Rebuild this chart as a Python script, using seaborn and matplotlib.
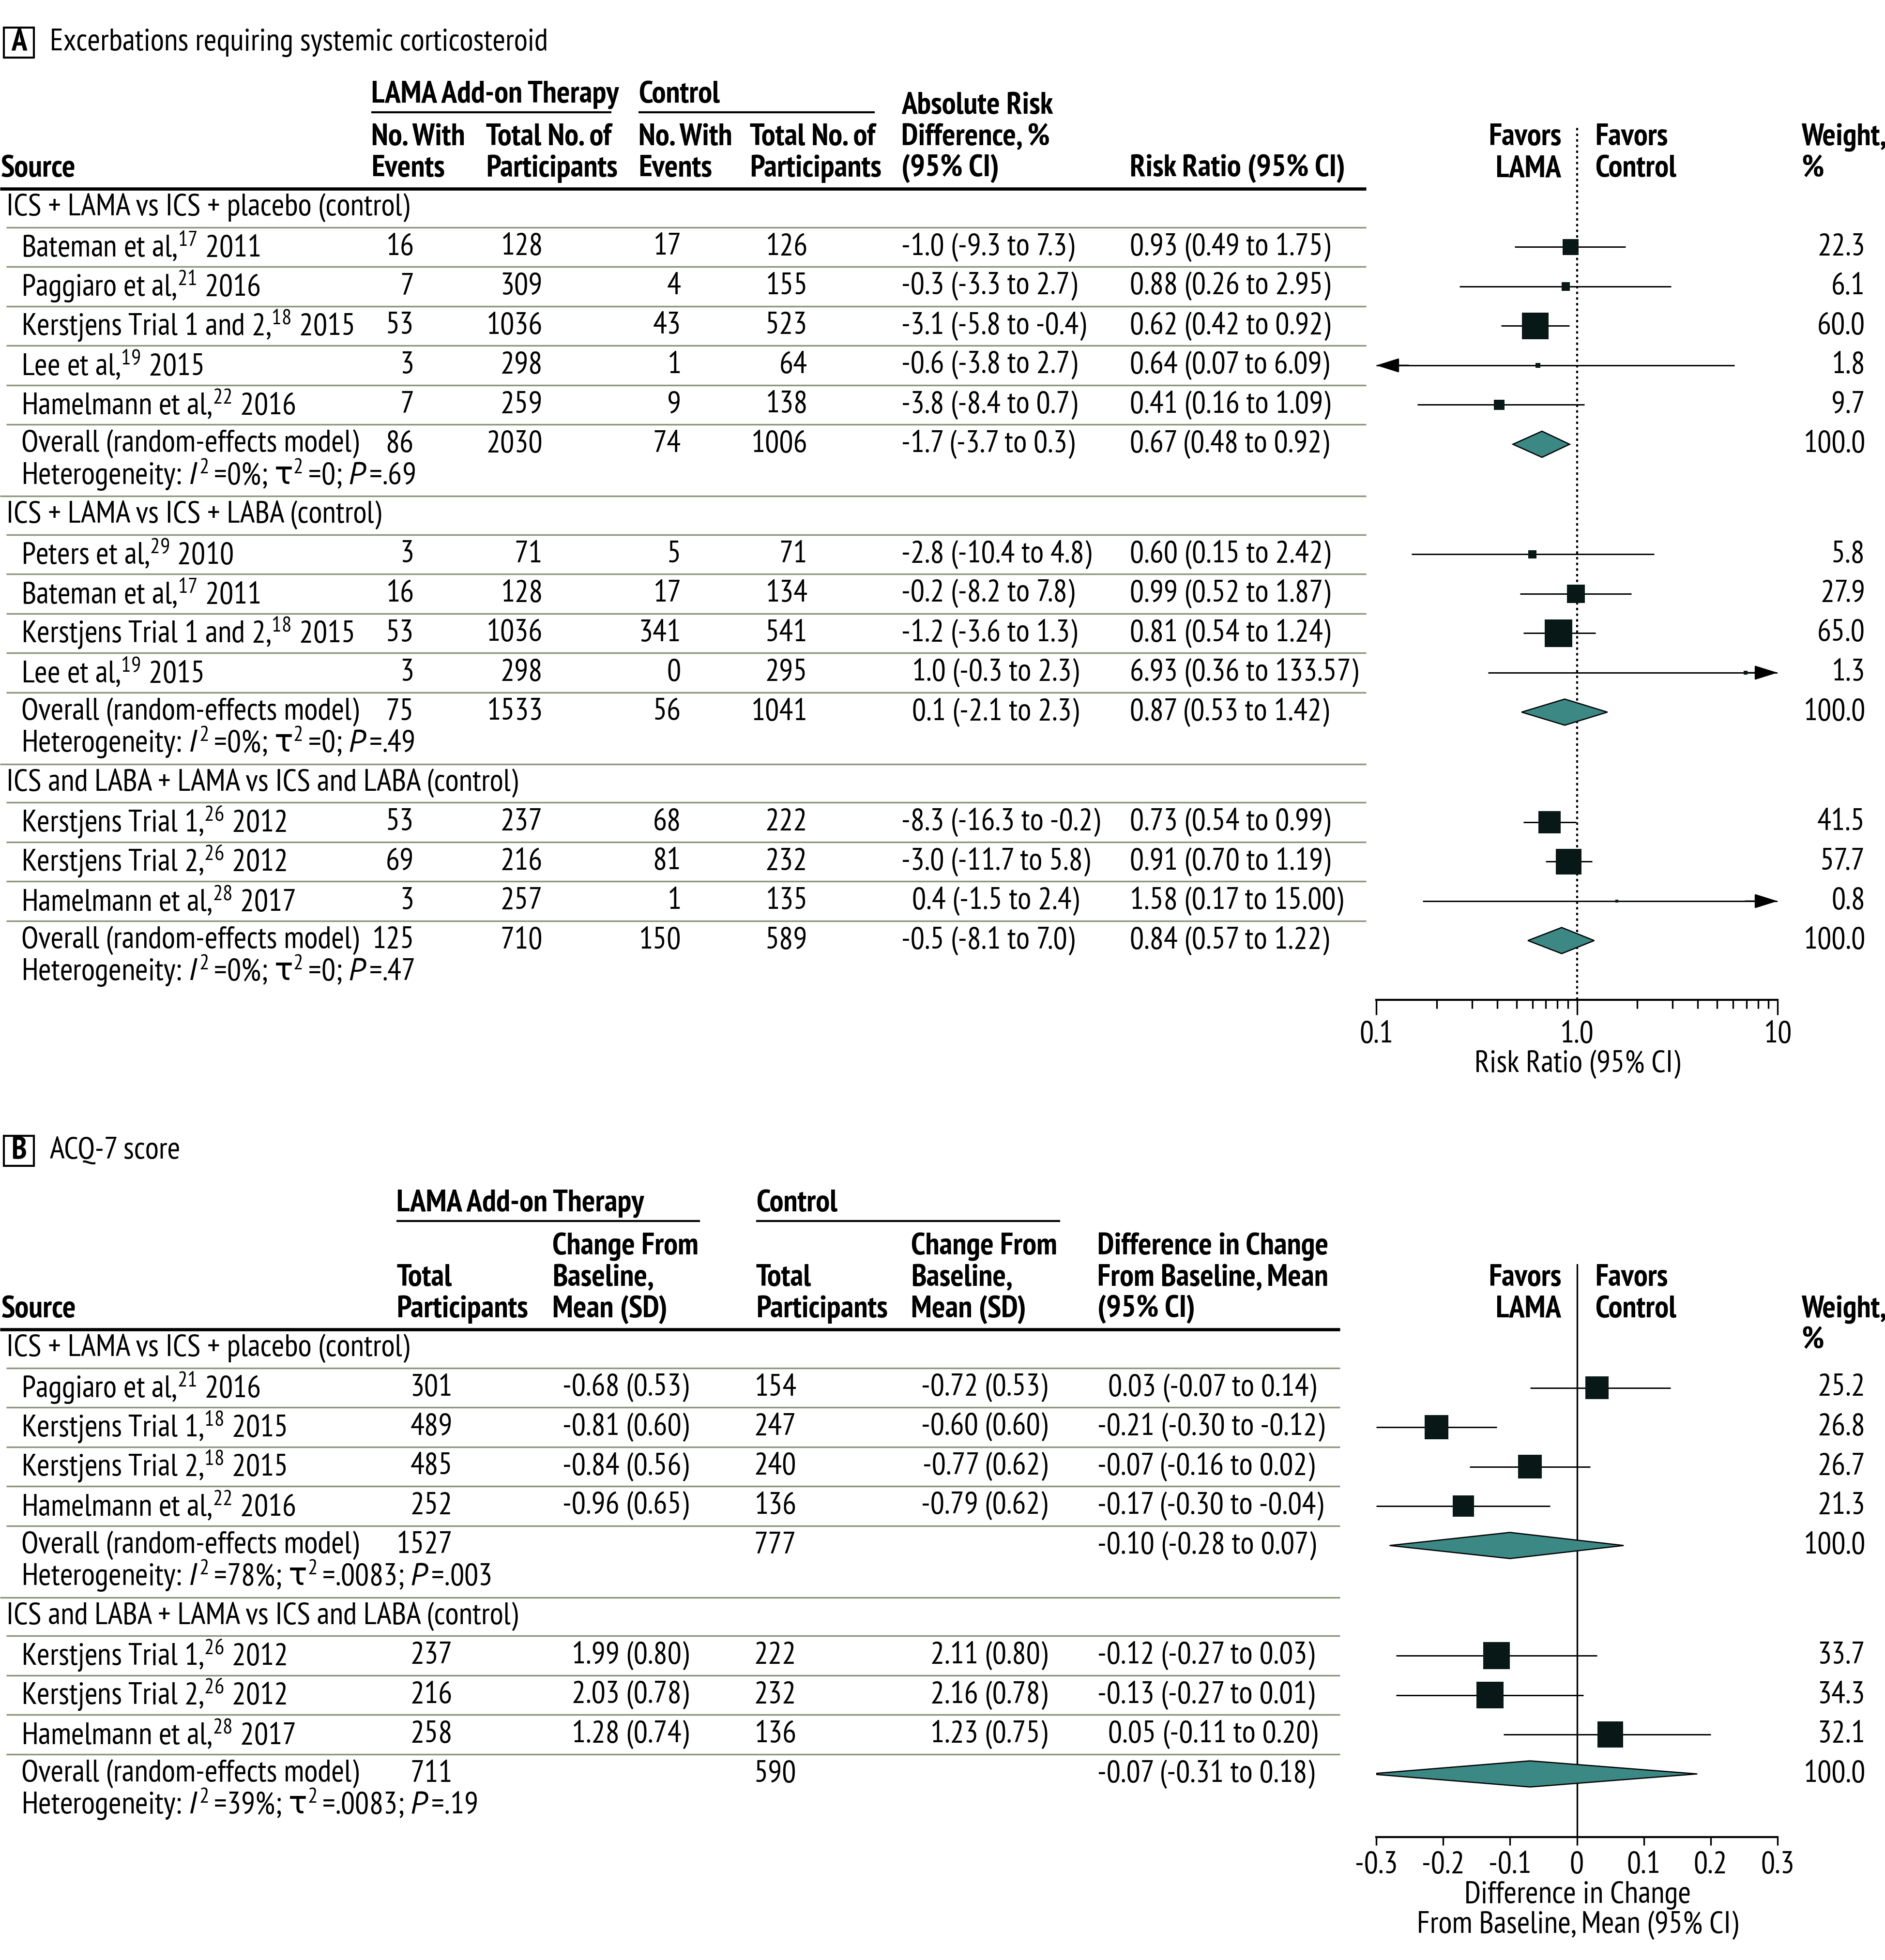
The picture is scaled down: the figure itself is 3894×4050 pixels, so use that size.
import numpy as np
import pandas as pd
import matplotlib
matplotlib.use("Agg")
import matplotlib.pyplot as plt
from matplotlib import font_manager as fm
from matplotlib.patches import Polygon, Rectangle
from matplotlib.ticker import NullFormatter
import seaborn as sns

# ---------------- panel A: exacerbations (risk ratio) ----------------
a_groups = ["ICS + LAMA vs ICS + placebo (control)",
            "ICS + LAMA vs ICS + LABA (control)",
            "ICS and LABA + LAMA vs ICS and LABA (control)"]
a_group_n = [5, 4, 3]
a_source = ["Bateman et al,$^{17}$ 2011", "Paggiaro et al,$^{21}$ 2016",
            "Kerstjens Trial 1 and 2,$^{18}$ 2015", "Lee et al,$^{19}$ 2015",
            "Hamelmann et al,$^{22}$ 2016",
            "Peters et al,$^{29}$ 2010", "Bateman et al,$^{17}$ 2011",
            "Kerstjens Trial 1 and 2,$^{18}$ 2015", "Lee et al,$^{19}$ 2015",
            "Kerstjens Trial 1,$^{26}$ 2012", "Kerstjens Trial 2,$^{26}$ 2012",
            "Hamelmann et al,$^{28}$ 2017"]
a_lama_events = [16, 7, 53, 3, 7, 3, 16, 53, 3, 53, 69, 3]
a_lama_total = [128, 309, 1036, 298, 259, 71, 128, 1036, 298, 237, 216, 257]
a_ctrl_events = [17, 4, 43, 1, 9, 5, 17, 341, 0, 68, 81, 1]
a_ctrl_total = [126, 155, 523, 64, 138, 71, 134, 541, 295, 222, 232, 135]
a_ard = [-1.0, -0.3, -3.1, -0.6, -3.8, -2.8, -0.2, -1.2, 1.0, -8.3, -3.0, 0.4]
a_ard_lo = [-9.3, -3.3, -5.8, -3.8, -8.4, -10.4, -8.2, -3.6, -0.3, -16.3, -11.7, -1.5]
a_ard_hi = [7.3, 2.7, -0.4, 2.7, 0.7, 4.8, 7.8, 1.3, 2.3, -0.2, 5.8, 2.4]
a_rr = [0.93, 0.88, 0.62, 0.64, 0.41, 0.60, 0.99, 0.81, 6.93, 0.73, 0.91, 1.58]
a_rr_lo = [0.49, 0.26, 0.42, 0.07, 0.16, 0.15, 0.52, 0.54, 0.36, 0.54, 0.70, 0.17]
a_rr_hi = [1.75, 2.95, 0.92, 6.09, 1.09, 2.42, 1.87, 1.24, 133.57, 0.99, 1.19, 15.00]
a_weight = [22.3, 6.1, 60.0, 1.8, 9.7, 5.8, 27.9, 65.0, 1.3, 41.5, 57.7, 0.8]

a_ov_lama_events = [86, 75, 125]
a_ov_lama_total = [2030, 1533, 710]
a_ov_ctrl_events = [74, 56, 150]
a_ov_ctrl_total = [1006, 1041, 589]
a_ov_ard = [-1.7, 0.1, -0.5]
a_ov_ard_lo = [-3.7, -2.1, -8.1]
a_ov_ard_hi = [0.3, 2.3, 7.0]
a_ov_rr = [0.67, 0.87, 0.84]
a_ov_rr_lo = [0.48, 0.53, 0.57]
a_ov_rr_hi = [0.92, 1.42, 1.22]
a_het_i2 = ["0%", "0%", "0%"]
a_het_tau2 = ["0", "0", "0"]
a_het_p = [".69", ".49", ".47"]
a_ticks = [0.1, 1, 10]
a_ticklabels = ["0.1", "1.0", "10"]
a_minor = [0.2, 0.3, 0.4, 0.5, 0.6, 0.7, 0.8, 0.9, 2, 3, 4, 5, 6, 7, 8, 9]

# ---------------- panel B: ACQ-7 score (mean difference) ----------------
b_groups = ["ICS + LAMA vs ICS + placebo (control)",
            "ICS and LABA + LAMA vs ICS and LABA (control)"]
b_group_n = [4, 3]
b_source = ["Paggiaro et al,$^{21}$ 2016", "Kerstjens Trial 1,$^{18}$ 2015",
            "Kerstjens Trial 2,$^{18}$ 2015", "Hamelmann et al,$^{22}$ 2016",
            "Kerstjens Trial 1,$^{26}$ 2012", "Kerstjens Trial 2,$^{26}$ 2012",
            "Hamelmann et al,$^{28}$ 2017"]
b_lama_total = [301, 489, 485, 252, 237, 216, 258]
b_lama_mean = [-0.68, -0.81, -0.84, -0.96, 1.99, 2.03, 1.28]
b_lama_sd = [0.53, 0.60, 0.56, 0.65, 0.80, 0.78, 0.74]
b_ctrl_total = [154, 247, 240, 136, 222, 232, 136]
b_ctrl_mean = [-0.72, -0.60, -0.77, -0.79, 2.11, 2.16, 1.23]
b_ctrl_sd = [0.53, 0.60, 0.62, 0.62, 0.80, 0.78, 0.75]
b_diff = [0.03, -0.21, -0.07, -0.17, -0.12, -0.13, 0.05]
b_diff_lo = [-0.07, -0.30, -0.16, -0.30, -0.27, -0.27, -0.11]
b_diff_hi = [0.14, -0.12, 0.02, -0.04, 0.03, 0.01, 0.20]
b_weight = [25.2, 26.8, 26.7, 21.3, 33.7, 34.3, 32.1]

b_ov_lama_total = [1527, 711]
b_ov_ctrl_total = [777, 590]
b_ov_diff = [-0.10, -0.07]
b_ov_diff_lo = [-0.28, -0.31]
b_ov_diff_hi = [0.07, 0.18]
b_het_i2 = ["78%", "39%"]
b_het_tau2 = [".0083", ".0083"]
b_het_p = [".003", ".19"]
b_ticks = [-0.3, -0.2, -0.1, 0, 0.1, 0.2, 0.3]
b_ticklabels = ["-0.3", "-0.2", "-0.1", "0", "0.1", "0.2", "0.3"]

# ---------------- styling ----------------
sns.set_theme(style="ticks")

# a condensed face is closest to the journal font; fall back to DejaVu
_names = {f.name for f in fm.fontManager.ttflist}
_italic = {f.name for f in fm.fontManager.ttflist if f.style == "italic"}
COND = next((n for n in ["PT Sans Narrow", "Fira Sans Condensed", "Roboto Condensed",
                         "Asap Condensed", "Archivo Narrow", "Liberation Sans Narrow"]
             if n in _names), "DejaVu Sans")
ITAL = COND if COND in _italic else next(
    (n for n in ["PT Sans", "Fira Sans Condensed", "Roboto Condensed", "Asap Condensed"]
     if n in _italic), "DejaVu Sans")
WIDE = "DejaVu Sans"
plt.rcParams["font.family"] = [COND, WIDE]
plt.rcParams["mathtext.fontset"] = "custom"
plt.rcParams["mathtext.rm"] = COND
plt.rcParams["mathtext.it"] = ITAL + ":italic"
plt.rcParams["mathtext.bf"] = COND + ":bold"
plt.rcParams["mathtext.sf"] = WIDE      # only used for the Greek tau

W, H, DPI = 3894, 4050, 300
OLIVE = "#8d957d"
BOX = "#071817"
TEAL = "#3b8884"
PT = 72 / DPI          # points per pixel
STEP = 81.5
TITLE_A = "Excerbations requiring systemic corticosteroid"

fig = plt.figure(figsize=(W / DPI, H / DPI), dpi=DPI)
bg = fig.add_axes([0, 0, 1, 1])
bg.set_xlim(0, W)
bg.set_ylim(H, 0)
bg.axis("off")

# size the condensed font so the panel title spans what it does in the figure
_probe = bg.text(0, 0, TITLE_A, fontsize=10, family=[COND, WIDE])
_w = _probe.get_window_extent(renderer=fig.canvas.get_renderer()).width
_probe.remove()
FS = 10 * 1025 / _w


def txt(x, y, s, ha="left", bold=False, size=None):
    bg.text(x, y, s, ha=ha, va="center", fontsize=size or FS,
            fontweight="bold" if bold else "normal",
            family=[COND, WIDE], color="black")


def hline(y, x0, x1, lw, color):
    bg.plot([x0, x1], [y, y], color=color, lw=lw, solid_capstyle="butt")


def layout(top, sizes):
    heads, rows, overall, het = [], [], [], []
    y = top
    for n in sizes:
        heads.append(y)
        rows += [y + STEP * (i + 1) for i in range(n)]
        overall.append(y + STEP * (n + 1))
        het.append(overall[-1] + 63)
        y = het[-1] + 83
    return heads, rows, overall, het


def signed(s, x):
    # leave room for a minus sign so the columns line up
    return x if s.startswith("-") else x + 22


def het_text(i2, tau2, p):
    return ("Heterogeneity: $I^2\\,$=" + i2 + "; $\\mathsf{\\tau}^2\\,$=" + tau2
            + "; $P\\,$=" + p)


def forest_axes(x0, x1, ytop, ybot):
    ax = fig.add_axes([x0 / W, 1 - ybot / H, (x1 - x0) / W, (ybot - ytop) / H])
    ax.set_facecolor("none")
    return ax


def panel_box(y, letter, title):
    bg.add_patch(Rectangle((8, y - 31), 62, 62, fill=False, lw=1.0, ec="black"))
    txt(39, y, letter, ha="center", bold=True)
    txt(103, y, title)


ARROW = dict(arrowstyle="-|>,head_length=0.7,head_width=0.22", mutation_scale=14,
             color="black", lw=0.7, shrinkA=0, shrinkB=0)


def draw_forest(ax, est, lo, hi, rows, ov, ov_lo, ov_hi, ov_y, weight, xmin, xmax, smax):
    df = pd.DataFrame({"est": est, "y": rows, "w": weight})
    sns.scatterplot(data=df, x="est", y="y", size="w", sizes=(0, smax),
                    size_norm=(0, 100), marker="s", color=BOX, linewidth=0,
                    legend=False, ax=ax, zorder=4)
    for e, l, h, y in zip(est, lo, hi, rows):
        ax.hlines(y, max(l, xmin), min(h, xmax), color="black", lw=0.7, zorder=3)
        if l < xmin:
            ax.annotate("", xy=(xmin, y), xytext=(16, 0), textcoords="offset points",
                        annotation_clip=False, arrowprops=ARROW)
        if h > xmax:
            ax.annotate("", xy=(xmax, y), xytext=(-16, 0), textcoords="offset points",
                        annotation_clip=False, arrowprops=ARROW)
    for e, l, h, y in zip(ov, ov_lo, ov_hi, ov_y):
        ax.add_patch(Polygon([(l, y), (e, y - 27), (h, y), (e, y + 27)], closed=True,
                             fc=TEAL, ec="black", lw=0.6, zorder=4))
    ax.set_xlabel("")
    ax.set_ylabel("")
    ax.set_yticks([])
    for s in ("left", "right", "top"):
        ax.spines[s].set_visible(False)
    ax.spines["bottom"].set_color("black")
    ax.spines["bottom"].set_linewidth(1.0)


# =============== PANEL A ===============
panel_box(88, "A", TITLE_A)

txt(767, 196, "LAMA Add-on Therapy", bold=True)
txt(1319, 196, "Control", bold=True)
hline(232, 767, 1263, 1.0, "black")
hline(232, 1319, 1807, 1.0, "black")
txt(767, 284, "No. With", bold=True)
txt(767, 349, "Events", bold=True)
txt(1004, 284, "Total No. of", bold=True)
txt(1004, 349, "Participants", bold=True)
txt(1319, 284, "No. With", bold=True)
txt(1319, 349, "Events", bold=True)
txt(1549, 284, "Total No. of", bold=True)
txt(1549, 349, "Participants", bold=True)
txt(1862, 219, "Absolute Risk", bold=True)
txt(1862, 284, "Difference, %", bold=True)
txt(1862, 349, "(95% CI)", bold=True)
txt(2, 349, "Source", bold=True)
txt(2334, 349, "Risk Ratio (95% CI)", bold=True)
txt(3225, 284, "Favors", ha="right", bold=True)
txt(3225, 349, "LAMA", ha="right", bold=True)
txt(3295, 284, "Favors", bold=True)
txt(3295, 349, "Control", bold=True)
txt(3721, 284, "Weight,", bold=True)
txt(3721, 349, "%", bold=True)
hline(390, 0, 2822, 1.6, "black")

a_heads, a_rows, a_ovy, a_hety = layout(429, a_group_n)

for g, name in enumerate(a_groups):
    yh = a_heads[g]
    txt(13, yh, name)
    n = a_group_n[g]
    for k in range(n + 1):
        hline(yh + STEP * (k + 0.5), 13, 2822, 0.8, OLIVE)
    if g < len(a_groups) - 1:
        hline(a_hety[g] + 44, 0, 2822, 0.8, OLIVE)

for i, y in enumerate(a_rows):
    txt(44, y, a_source[i])
    txt(855, y, str(a_lama_events[i]), ha="right")
    txt(1121, y, str(a_lama_total[i]), ha="right")
    txt(1407, y, str(a_ctrl_events[i]), ha="right")
    txt(1668, y, str(a_ctrl_total[i]), ha="right")
    s = f"{a_ard[i]:.1f} ({a_ard_lo[i]:.1f} to {a_ard_hi[i]:.1f})"
    txt(signed(s, 1862), y, s)
    txt(2334, y, f"{a_rr[i]:.2f} ({a_rr_lo[i]:.2f} to {a_rr_hi[i]:.2f})")
    txt(3853, y, f"{a_weight[i]:.1f}", ha="right")

for g, y in enumerate(a_ovy):
    txt(44, y, "Overall (random-effects model)")
    txt(855, y, str(a_ov_lama_events[g]), ha="right")
    txt(1121, y, str(a_ov_lama_total[g]), ha="right")
    txt(1407, y, str(a_ov_ctrl_events[g]), ha="right")
    txt(1668, y, str(a_ov_ctrl_total[g]), ha="right")
    s = f"{a_ov_ard[g]:.1f} ({a_ov_ard_lo[g]:.1f} to {a_ov_ard_hi[g]:.1f})"
    txt(signed(s, 1862), y, s)
    txt(2334, y, f"{a_ov_rr[g]:.2f} ({a_ov_rr_lo[g]:.2f} to {a_ov_rr_hi[g]:.2f})")
    txt(3853, y, "100.0", ha="right")
    txt(44, a_hety[g], het_text(a_het_i2[g], a_het_tau2[g], a_het_p[g]))

axA = forest_axes(2843, 3672, 258, 2066)
draw_forest(axA, a_rr, a_rr_lo, a_rr_hi, a_rows, a_ov_rr, a_ov_rr_lo, a_ov_rr_hi,
            a_ovy, a_weight, 0.1, 10, 285)
axA.set_xscale("log")
axA.set_xlim(0.1, 10)
axA.set_ylim(2066, 258)
axA.axvline(1, color="black", ls=(0, (1.2, 1.6)), lw=1.0, zorder=1)
axA.set_xticks(a_ticks)
axA.set_xticklabels(a_ticklabels)
axA.set_xticks(a_minor, minor=True)
axA.xaxis.set_minor_formatter(NullFormatter())
axA.tick_params(axis="x", which="major", direction="out", length=31 * PT, width=0.8,
                color="black", pad=3, labelsize=FS, labelcolor="black")
axA.tick_params(axis="x", which="minor", direction="out", length=18 * PT, width=0.8,
                color="black")
txt(3259, 2200, "Risk Ratio (95% CI)", ha="center")

# =============== PANEL B ===============
panel_box(2378, "B", "ACQ-7 score")

txt(819, 2487, "LAMA Add-on Therapy", bold=True)
txt(1562, 2487, "Control", bold=True)
hline(2523, 819, 1446, 1.0, "black")
hline(2523, 1562, 2190, 1.0, "black")
txt(819, 2641, "Total", bold=True)
txt(819, 2706, "Participants", bold=True)
txt(1141, 2577, "Change From", bold=True)
txt(1141, 2641, "Baseline,", bold=True)
txt(1141, 2706, "Mean (SD)", bold=True)
txt(1562, 2641, "Total", bold=True)
txt(1562, 2706, "Participants", bold=True)
txt(1882, 2577, "Change From", bold=True)
txt(1882, 2641, "Baseline,", bold=True)
txt(1882, 2706, "Mean (SD)", bold=True)
txt(2267, 2577, "Difference in Change", bold=True)
txt(2267, 2641, "From Baseline, Mean", bold=True)
txt(2267, 2706, "(95% CI)", bold=True)
txt(3, 2706, "Source", bold=True)
txt(3225, 2641, "Favors", ha="right", bold=True)
txt(3225, 2706, "LAMA", ha="right", bold=True)
txt(3295, 2641, "Favors", bold=True)
txt(3295, 2706, "Control", bold=True)
txt(3721, 2706, "Weight,", bold=True)
txt(3721, 2770, "%", bold=True)
hline(2747, 0, 2768, 1.6, "black")

b_heads, b_rows, b_ovy, b_hety = layout(2786, b_group_n)

for g, name in enumerate(b_groups):
    yh = b_heads[g]
    txt(13, yh, name)
    n = b_group_n[g]
    for k in range(n + 1):
        hline(yh + STEP * (k + 0.5), 13, 2768, 0.8, OLIVE)
    if g < len(b_groups) - 1:
        hline(b_hety[g] + 44, 0, 2768, 0.8, OLIVE)

for i, y in enumerate(b_rows):
    txt(44, y, b_source[i])
    txt(935, y, str(b_lama_total[i]), ha="right")
    txt(1423, y, f"{b_lama_mean[i]:.2f} ({b_lama_sd[i]:.2f})", ha="right")
    txt(1645, y, str(b_ctrl_total[i]), ha="right")
    txt(2164, y, f"{b_ctrl_mean[i]:.2f} ({b_ctrl_sd[i]:.2f})", ha="right")
    s = f"{b_diff[i]:.2f} ({b_diff_lo[i]:.2f} to {b_diff_hi[i]:.2f})"
    txt(signed(s, 2267), y, s)
    txt(3853, y, f"{b_weight[i]:.1f}", ha="right")

for g, y in enumerate(b_ovy):
    txt(44, y, "Overall (random-effects model)")
    txt(935, y, str(b_ov_lama_total[g]), ha="right")
    txt(1645, y, str(b_ov_ctrl_total[g]), ha="right")
    s = f"{b_ov_diff[g]:.2f} ({b_ov_diff_lo[g]:.2f} to {b_ov_diff_hi[g]:.2f})"
    txt(signed(s, 2267), y, s)
    txt(3853, y, "100.0", ha="right")
    txt(44, b_hety[g], het_text(b_het_i2[g], b_het_tau2[g], b_het_p[g]))

axB = forest_axes(2843, 3672, 2612, 3796)
draw_forest(axB, b_diff, b_diff_lo, b_diff_hi, b_rows, b_ov_diff, b_ov_diff_lo, b_ov_diff_hi,
            b_ovy, b_weight, -0.3, 0.3, 520)
axB.set_xlim(-0.3, 0.3)
axB.set_ylim(3796, 2612)
axB.axvline(0, color="black", lw=0.8, zorder=1)
axB.set_xticks(b_ticks)
axB.set_xticklabels(b_ticklabels)
axB.tick_params(axis="x", which="major", direction="out", length=17 * PT, width=0.8,
                color="black", pad=3, labelsize=FS, labelcolor="black")
txt(3259, 3917, "Difference in Change", ha="center")
txt(3259, 3979, "From Baseline, Mean (95% CI)", ha="center")

fig.savefig("out.png", dpi=DPI)
